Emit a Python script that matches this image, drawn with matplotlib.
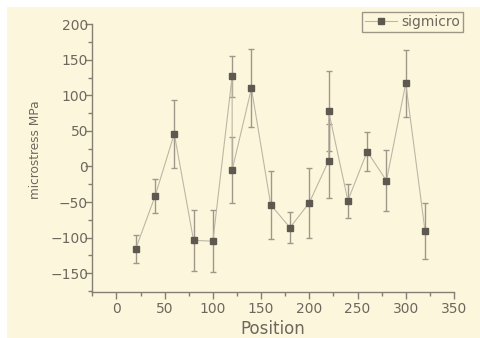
import matplotlib
matplotlib.use("Agg")
import matplotlib.pyplot as plt
from matplotlib.patches import Rectangle
from matplotlib.ticker import MultipleLocator

# measured microstress along the sample
position = [20, 40, 60, 80, 100, 120, 120, 140, 160, 180, 200, 220, 220, 240, 260, 280, 300, 320]
sigmicro = [-116, -42, 46, -104, -105, 127, -5, 110, -54, -86, -51, 8, 78, -48, 21, -20, 117, -91]
sigmicro_err = [20, 24, 48, 43, 44, 29, 47, 55, 48, 22, 49, 52, 56, 24, 28, 43, 47, 39]

x_ticks = [0, 50, 100, 150, 200, 250, 300, 350]
y_ticks = [-150, -100, -50, 0, 50, 100, 150, 200]

cream = "#fcf7dc"
axis_col = "#857e72"
text_col = "#6d675d"
marker_col = "#5e5950"
line_col = "#bdb6a6"
err_col = "#9e978a"

fig = plt.figure(figsize=(4.8, 3.38), dpi=100)
fig.patch.set_facecolor("white")
fig.add_artist(Rectangle((7 / 480, 0), 1, 1 - 7 / 338, transform=fig.transFigure,
                         facecolor=cream, edgecolor="none", zorder=-10))

ax = fig.add_axes([0.1923, 0.1352, 0.7535, 0.7929])
ax.set_facecolor("none")

ax.errorbar(position, sigmicro, yerr=sigmicro_err, fmt="none", ecolor=err_col,
            elinewidth=1, capsize=2.5, capthick=1, zorder=2)
ax.plot(position, sigmicro, "-", color=line_col, lw=0.8, marker="s", ms=5,
        mfc=marker_col, mec=marker_col, label="sigmicro", zorder=3)

ax.set_xlim(-25, 350)
ax.set_ylim(-177, 200)
ax.set_xticks(x_ticks)
ax.set_yticks(y_ticks)
ax.xaxis.set_minor_locator(MultipleLocator(25))
ax.yaxis.set_minor_locator(MultipleLocator(25))

for side in ["top", "right"]:
    ax.spines[side].set_visible(False)
for side in ["left", "bottom"]:
    ax.spines[side].set_color(axis_col)
    ax.spines[side].set_linewidth(1)

ax.tick_params(which="both", direction="out", colors=axis_col, labelcolor=text_col,
               labelsize=10, width=1)
ax.tick_params(which="major", length=5)
ax.tick_params(which="minor", length=3)
ax.tick_params(axis="y", which="major", pad=-2)
ax.tick_params(axis="x", which="major", pad=2)

ax.set_xlabel("Position", fontsize=12, color=text_col, labelpad=3)
ax.set_ylabel("microstress MPa", fontsize=8.7, color=text_col)
ax.yaxis.set_label_coords(-0.139, 0.531)

leg = fig.legend(loc="upper right", bbox_to_anchor=(463 / 480, 1 - 12 / 338),
                 fontsize=10, frameon=True, fancybox=False, numpoints=1,
                 borderpad=0.2, handlelength=2.3, handletextpad=0.3, borderaxespad=0)
leg.get_frame().set_edgecolor(axis_col)
leg.get_frame().set_facecolor("none")
leg.get_frame().set_linewidth(1)
for t in leg.get_texts():
    t.set_color(text_col)

fig.savefig("out.png", dpi=100, facecolor=fig.get_facecolor())
